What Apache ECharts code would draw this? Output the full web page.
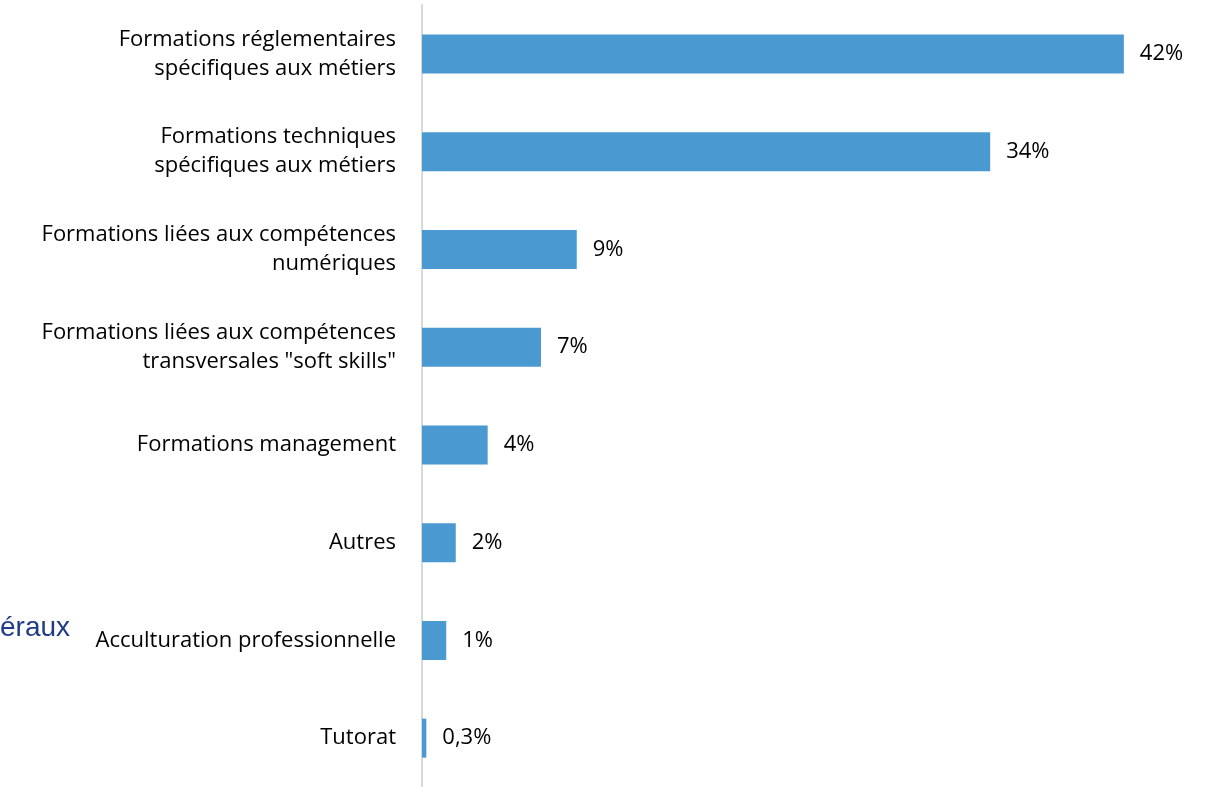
<!DOCTYPE html>
<html>
<head>
<meta charset="utf-8">
<script src="https://cdn.jsdelivr.net/npm/echarts@6/dist/echarts.min.js"></script>
<style>
html,body{margin:0;padding:0;background:#fff;}
#chart{width:1215px;height:787px;}
</style>
</head>
<body>
<div id="chart"></div>
<script>
const categories = [
  "Formations réglementaires\nspécifiques aux métiers",
  "Formations techniques\nspécifiques aux métiers",
  "Formations liées aux compétences\nnumériques",
  "Formations liées aux compétences\ntransversales \"soft skills\"",
  "Formations management",
  "Autres",
  "Acculturation professionnelle",
  "Tutorat"
];
const values = [42, 34, 9.26, 7.12, 3.93, 2.02, 1.45, 0.26];
const valueLabels = ["42%", "34%", "9%", "7%", "4%", "2%", "1%", "0,3%"];

const chart = echarts.init(document.getElementById('chart'));
const FONT = '"Open Sans"';
chart.setOption({
  animation: false,
  grid: { left: 422, top: 5, height: 785.6, width: 752 },
  xAxis: {
    type: 'value', min: 0, max: 45,
    show: false
  },
  yAxis: {
    type: 'category',
    data: categories,
    inverse: true,
    axisLine: { show: true, lineStyle: { color: '#d9d9d9', width: 2 } },
    axisTick: { show: false },
    axisLabel: {
      margin: 26,
      color: '#000',
      fontFamily: FONT,
      fontSize: 22,
      lineHeight: 29,
      align: 'right'
    }
  },
  series: [{
    type: 'bar',
    data: values,
    barWidth: 39,
    itemStyle: { color: '#4a9ad1' },
    label: {
      show: true,
      position: 'right',
      distance: 16,
      color: '#000',
      fontFamily: FONT,
      fontSize: 22,
      formatter: p => valueLabels[p.dataIndex]
    }
  }],
  graphic: [{
    type: 'text',
    left: 0, top: 614,
    style: {
      text: 'éraux',
      fill: '#1f3c88',
      font: '28px "Liberation Sans", Arial, sans-serif'
    },
    position: [-4, 0]
  }]
});
</script>
</body>
</html>
